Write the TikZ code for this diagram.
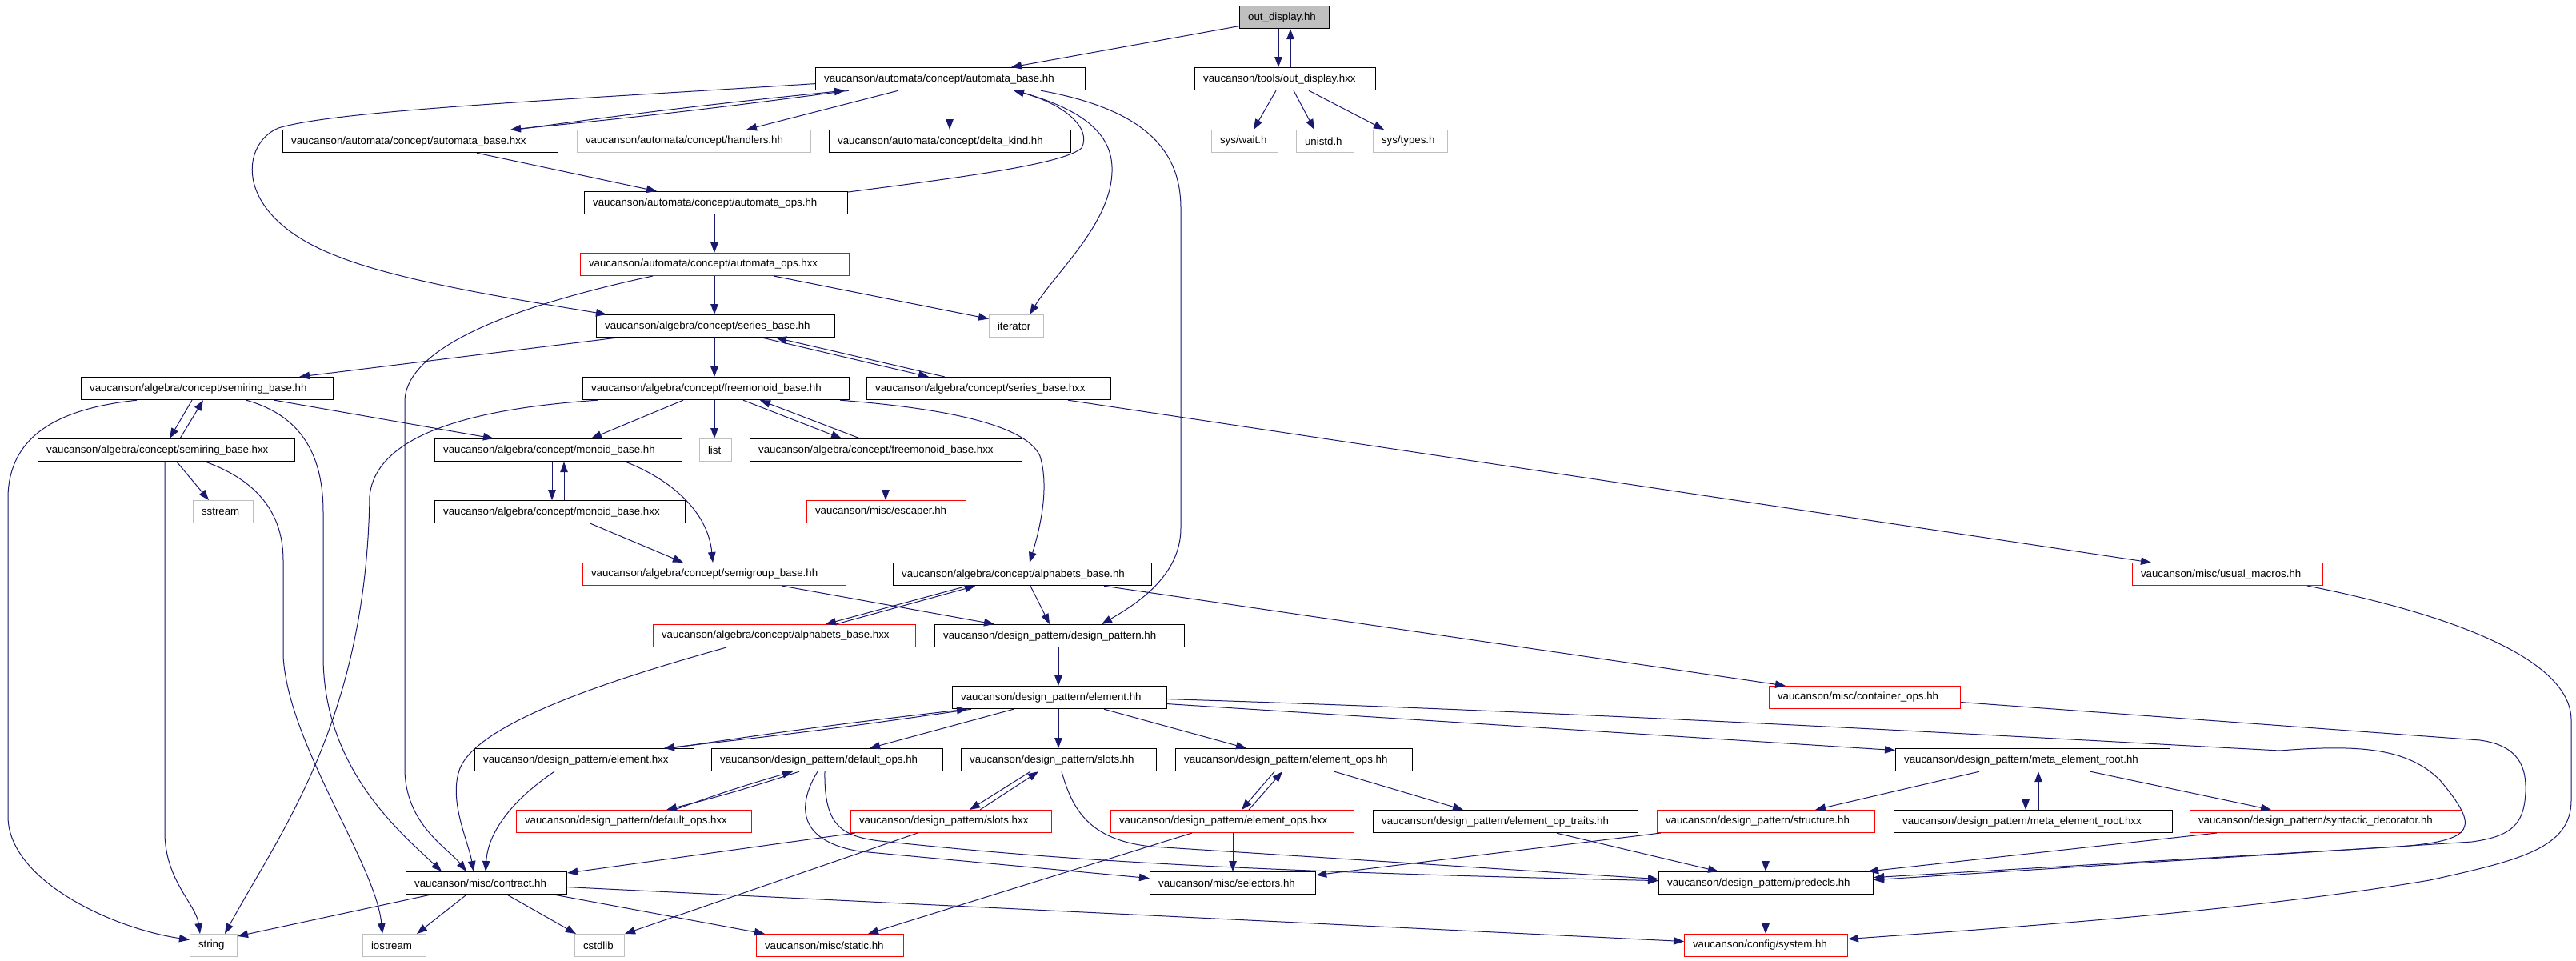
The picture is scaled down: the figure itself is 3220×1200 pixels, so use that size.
\documentclass[tikz,border=0pt]{standalone}
\usepackage{fontspec}
\usetikzlibrary{arrows.meta}
\newfontfamily\dotfont{Liberation Sans}
\definecolor{midblue}{RGB}{25,25,112}
\definecolor{gray75}{RGB}{191,191,191}
\tikzset{
  file/.style={draw=black, line width=1.2pt, anchor=north west, inner xsep=10.5pt, inner ysep=0pt,
    minimum height=28pt, align=left, font={\dotfont\fontsize{13.3pt}{16pt}\selectfont}},
  sysfile/.style={file, draw=gray75, line width=1pt},
  trunc/.style={file, draw=red, line width=1pt},
  root/.style={file, fill=gray75},
  tw/.style={text width=#1pt},
  dep/.style={draw=midblue, line width=1pt, -{Triangle[length=13pt,width=9.5pt]}},
}
\begin{document}
\begin{tikzpicture}[x=1pt, y=-1pt]
  \fill[white] (0,0) rectangle (3220,1200);
  \useasboundingbox (0,0) rectangle (3220,1200);
  % files, row by row
  \node[root, tw=91] (odh) at (1549,7) {out\_display.hh};
  \node[file, tw=316] (abh) at (1019,84) {vaucanson/automata/concept/automata\_base.hh};
  \node[file, tw=205] (odhxx) at (1493,84) {vaucanson/tools/out\_display.hxx};
  \node[file, tw=323] (abhxx) at (353,162) {vaucanson/automata/concept/automata\_base.hxx};
  \node[sysfile, tw=271] (handl) at (721,162) {vaucanson/automata/concept/handlers.hh};
  \node[file, tw=281] (delta) at (1036,162) {vaucanson/automata/concept/delta\_kind.hh};
  \node[sysfile, tw=62] (wait) at (1514,162) {sys/wait.h};
  \node[sysfile, tw=51] (unistd) at (1620,162) {unistd.h};
  \node[sysfile, tw=72] (types) at (1716,162) {sys/types.h};
  \node[file, tw=308] (aoh) at (730,239) {vaucanson/automata/concept/automata\_ops.hh};
  \node[trunc, tw=315] (aohxx) at (725,316) {vaucanson/automata/concept/automata\_ops.hxx};
  \node[file, tw=277] (sbh) at (745,393) {vaucanson/algebra/concept/series\_base.hh};
  \node[sysfile, tw=47] (iter) at (1236,393) {iterator};
  \node[file, tw=294] (srh) at (101,471) {vaucanson/algebra/concept/semiring\_base.hh};
  \node[file, tw=312] (fmh) at (728,471) {vaucanson/algebra/concept/freemonoid\_base.hh};
  \node[file, tw=284] (sbhxx) at (1083,471) {vaucanson/algebra/concept/series\_base.hxx};
  \node[file, tw=300] (srhxx) at (47,548) {vaucanson/algebra/concept/semiring\_base.hxx};
  \node[file, tw=288] (mbh) at (543,548) {vaucanson/algebra/concept/monoid\_base.hh};
  \node[sysfile, tw=19] (list) at (874,548) {list};
  \node[file, tw=319] (fmhxx) at (937,548) {vaucanson/algebra/concept/freemonoid\_base.hxx};
  \node[sysfile, tw=54] (sstream) at (241,625) {sstream};
  \node[file, tw=292] (mbhxx) at (543,625) {vaucanson/algebra/concept/monoid\_base.hxx};
  \node[trunc, tw=178] (esc) at (1008,625) {vaucanson/misc/escaper.hh};
  \node[trunc, tw=308] (sgh) at (728,703) {vaucanson/algebra/concept/semigroup\_base.hh};
  \node[file, tw=302] (alh) at (1116,703) {vaucanson/algebra/concept/alphabets\_base.hh};
  \node[trunc, tw=217] (umac) at (2665,703) {vaucanson/misc/usual\_macros.hh};
  \node[trunc, tw=307] (alhxx) at (816,780) {vaucanson/algebra/concept/alphabets\_base.hxx};
  \node[file, tw=291] (dph) at (1168,780) {vaucanson/design\_pattern/design\_pattern.hh};
  \node[file, tw=247] (elh) at (1190,857) {vaucanson/design\_pattern/element.hh};
  \node[trunc, tw=218] (cops) at (2211,857) {vaucanson/misc/container\_ops.hh};
  \node[file, tw=253] (elhxx) at (593,935) {vaucanson/design\_pattern/element.hxx};
  \node[file, tw=268] (doh) at (889,935) {vaucanson/design\_pattern/default\_ops.hh};
  \node[file, tw=223] (slh) at (1201,935) {vaucanson/design\_pattern/slots.hh};
  \node[file, tw=275] (eoh) at (1469,935) {vaucanson/design\_pattern/element\_ops.hh};
  \node[file, tw=322] (merh) at (2369,935) {vaucanson/design\_pattern/meta\_element\_root.hh};
  \node[trunc, tw=273] (dohxx) at (645,1012) {vaucanson/design\_pattern/default\_ops.hxx};
  \node[trunc, tw=230] (slhxx) at (1063,1012) {vaucanson/design\_pattern/slots.hxx};
  \node[trunc, tw=283] (eohxx) at (1388,1012) {vaucanson/design\_pattern/element\_ops.hxx};
  \node[file, tw=310] (eot) at (1716,1012) {vaucanson/design\_pattern/element\_op\_traits.hh};
  \node[trunc, tw=251] (strh) at (2071,1012) {vaucanson/design\_pattern/structure.hh};
  \node[file, tw=327] (merhxx) at (2367,1012) {vaucanson/design\_pattern/meta\_element\_root.hxx};
  \node[trunc, tw=319] (syn) at (2737,1012) {vaucanson/design\_pattern/syntactic\_decorator.hh};
  \node[file, tw=180] (con) at (507,1089) {vaucanson/misc/contract.hh};
  \node[file, tw=186] (sel) at (1437,1089) {vaucanson/misc/selectors.hh};
  \node[file, tw=247] (pred) at (2073,1089) {vaucanson/design\_pattern/predecls.hh};
  \node[sysfile, tw=38] (string) at (237,1167) {string};
  \node[sysfile, tw=58] (iostr) at (453,1167) {iostream};
  \node[sysfile, tw=41] (cstd) at (718,1167) {cstdlib};
  \node[trunc, tw=163] (stat) at (945,1167) {vaucanson/misc/static.hh};
  \node[trunc, tw=183] (sys) at (2105,1167) {vaucanson/config/system.hh};
  % include relations
  \draw[dep] ([yshift=-11pt]odh.west) -- ([xshift=245pt]abh.north west);
  \draw[dep] ([xshift=49pt]odh.south west) -- ([xshift=105pt]odhxx.north west);
  \draw[dep] ([xshift=120pt]odhxx.north west) -- ([xshift=64pt]odh.south west);
  \draw[dep] ([xshift=102pt]odhxx.south west) -- ([xshift=53pt]wait.north west);
  \draw[dep] ([xshift=124pt]odhxx.south west) -- ([xshift=23pt]unistd.north west);
  \draw[dep] ([xshift=143pt]odhxx.south west) -- ([xshift=14pt]types.north west);
  \draw[dep] ([xshift=42pt]abh.south west) to[bend left=1] ([xshift=285pt]abhxx.north west);
  \draw[dep] ([xshift=292pt]abhxx.north west) to[bend left=1] ([xshift=37pt]abh.south west);
  \draw[dep] ([xshift=104pt]abh.south west) -- ([xshift=212pt]handl.north west);
  \draw[dep] ([xshift=168pt]abh.south west) -- ([xshift=151pt]delta.north west);
  \draw[dep] ([yshift=-6pt]abh.west) .. controls (700,125) and (420,138) .. (348,160)
    .. controls (300,180) and (290,270) .. (421,320) .. controls (500,352) and (650,375) .. ([xshift=13pt]sbh.north west);
  \draw[dep] ([xshift=250pt]abh.south west) .. controls (1350,135) and (1392,165) .. (1390,215)
    .. controls (1388,280) and (1320,340) .. ([xshift=51pt]iter.north west);
  \draw[dep] ([yshift=-1pt]aoh.north east) .. controls (1200,222) and (1330,205) .. (1352,185)
    .. controls (1365,160) and (1330,130) .. ([xshift=248pt]abh.south west);
  \draw[dep] ([xshift=282pt]abh.south west) .. controls (1420,135) and (1476,180) .. (1476,260) -- (1476,660)
    .. controls (1476,720) and (1420,755) .. ([xshift=209pt]dph.north west);
  \draw[dep] ([xshift=243pt]abhxx.south west) -- ([xshift=91pt]aoh.north west);
  \draw[dep] ([xshift=163pt]aoh.south west) -- ([xshift=168pt]aohxx.north west);
  \draw[dep] ([xshift=168pt]aohxx.south west) -- ([xshift=148pt]sbh.north west);
  \draw[dep] ([xshift=242pt]aohxx.south west) -- ([yshift=9pt]iter.west);
  \draw[dep] ([xshift=91pt]aohxx.south west) .. controls (700,370) and (510,420) .. (506,500) -- (506,960)
    .. controls (506,1030) and (560,1060) .. ([xshift=76pt]con.north west);
  \draw[dep] ([xshift=26pt]sbh.south west) -- ([xshift=273pt]srh.north west);
  \draw[dep] ([xshift=148pt]sbh.south west) -- ([xshift=165pt]fmh.north west);
  \draw[dep] ([xshift=208pt]sbh.south west) -- ([xshift=78pt]sbhxx.north west);
  \draw[dep] ([xshift=98pt]sbhxx.north west) -- ([xshift=225pt]sbh.south west);
  \draw[dep] ([xshift=252pt]sbhxx.south west) -- ([xshift=24pt]umac.north west);
  \draw[dep] ([xshift=-12pt]fmh.south east) .. controls (1150,508) and (1280,525) .. (1300,570)
    .. controls (1312,610) and (1300,660) .. ([xshift=171pt]alh.north west);
  \draw[dep] ([xshift=139pt]srh.south west) -- ([xshift=165pt]srhxx.north west);
  \draw[dep] ([xshift=178pt]srhxx.north west) -- ([xshift=153pt]srh.south west);
  \draw[dep] ([xshift=242pt]srh.south west) -- ([xshift=74pt]mbh.north west);
  \draw[dep] ([xshift=70pt]srh.south west) .. controls (80,510) and (12,540) .. (10,620) -- (10,1020)
    .. controls (10,1100) and (140,1160) .. ([yshift=7pt]string.west);
  \draw[dep] ([xshift=207pt]srh.south west) .. controls (360,515) and (404,550) .. (404,640) -- (404,820)
    .. controls (404,960) and (500,1040) .. ([xshift=45pt]con.north west);
  \draw[dep] ([xshift=159pt]srhxx.south west) -- (206,1040) .. controls (206,1100) and (245,1130) .. ([xshift=13pt]string.north west);
  \draw[dep] ([xshift=174pt]srhxx.south west) -- ([xshift=20pt]sstream.north west);
  \draw[dep] ([xshift=210pt]srhxx.south west) .. controls (320,600) and (354,640) .. (354,700) -- (354,820)
    .. controls (360,930) and (470,1080) .. ([xshift=25pt]iostr.north west);
  \draw[dep] ([xshift=126pt]fmh.south west) -- ([xshift=196pt]mbh.north west);
  \draw[dep] ([xshift=165pt]fmh.south west) -- ([xshift=19pt]list.north west);
  \draw[dep] ([xshift=201pt]fmh.south west) -- ([xshift=115pt]fmhxx.north west);
  \draw[dep] ([xshift=138pt]fmhxx.north west) -- ([xshift=222pt]fmh.south west);
  \draw[dep] ([xshift=19pt]fmh.south west) .. controls (600,510) and (470,540) .. (462,620)
    .. controls (458,900) and (350,1040) .. ([xshift=44pt]string.north west);
  \draw[dep] ([xshift=170pt]fmhxx.south west) -- ([xshift=99pt]esc.north west);
  \draw[dep] ([xshift=147pt]mbh.south west) -- ([xshift=147pt]mbhxx.north west);
  \draw[dep] ([xshift=162pt]mbhxx.north west) -- ([xshift=162pt]mbh.south west);
  \draw[dep] ([xshift=239pt]mbh.south west) .. controls (840,600) and (885,640) .. ([xshift=163pt]sgh.north west);
  \draw[dep] ([xshift=195pt]mbhxx.south west) -- ([xshift=126pt]sgh.north west);
  \draw[dep] ([xshift=249pt]sgh.south west) -- ([xshift=75pt]dph.north west);
  \draw[dep] ([xshift=93pt]alh.south west) -- ([xshift=216pt]alhxx.north west);
  \draw[dep] ([xshift=229pt]alhxx.north west) -- ([xshift=103pt]alh.south west);
  \draw[dep] ([xshift=172pt]alh.south west) -- ([xshift=144pt]dph.north west);
  \draw[dep] ([xshift=264pt]alh.south west) -- ([xshift=21pt]cops.north west);
  \draw[dep] ([xshift=92pt]alhxx.south west) .. controls (780,845) and (600,900) .. (575,960)
    .. controls (560,1000) and (585,1050) .. ([xshift=85pt]con.north west);
  \draw[dep] ([xshift=155pt]dph.south west) -- ([xshift=133pt]elh.north west);
  \draw[dep] ([xshift=24pt]elh.south west) to[bend left=1] ([xshift=237pt]elhxx.north west);
  \draw[dep] ([xshift=246pt]elhxx.north west) to[bend left=1] ([xshift=19pt]elh.south west);
  \draw[dep] ([xshift=77pt]elh.south west) -- ([xshift=198pt]doh.north west);
  \draw[dep] ([xshift=133pt]elh.south west) -- ([xshift=122pt]slh.north west);
  \draw[dep] ([xshift=190pt]elh.south west) -- ([xshift=89pt]eoh.north west);
  \draw[dep] ([yshift=-8pt]elh.east) -- ([yshift=12pt]merh.west);
  \draw[dep] ([yshift=-2pt]elh.east) .. controls (2000,890) and (2600,925) .. (2850,938)
    .. controls (2950,930) and (3010,935) .. (3050,975) .. controls (3100,1035) and (3095,1050) .. (3000,1058)
    -- ([yshift=7pt]pred.east);
  \draw[dep] ([yshift=-6pt]cops.east) -- (3100,925) .. controls (3150,932) and (3158,960) .. (3157,990)
    .. controls (3155,1030) and (3140,1045) .. (3090,1052) -- ([yshift=4pt]pred.east);
  \draw[dep] ([xshift=219pt]umac.south west) .. controls (3050,765) and (3214,820) .. (3214,900) -- (3214,1000)
    .. controls (3214,1060) and (3150,1075) .. (3037,1100) .. controls (2800,1140) and (2500,1160) .. ([yshift=8pt]sys.east);
  \draw[dep] ([xshift=100pt]elhxx.south west) .. controls (640,1000) and (610,1040) .. ([xshift=100pt]con.north west);
  \draw[dep] ([xshift=110pt]doh.south west) to[bend left=2] ([xshift=188pt]dohxx.north west);
  \draw[dep] ([xshift=198pt]dohxx.north west) to[bend left=2] ([xshift=102pt]doh.south west);
  \draw[dep] ([xshift=133pt]doh.south west) .. controls (1000,1000) and (990,1050) .. (1075,1064) -- ([yshift=6pt]sel.west);
  \draw[dep] ([xshift=142pt]doh.south west) .. controls (1030,1030) and (1050,1045) .. (1100,1051)
    .. controls (1300,1072) and (1500,1088) .. ([yshift=3pt]pred.west);
  \draw[dep] ([xshift=87pt]slh.south west) -- ([xshift=149pt]slhxx.north west);
  \draw[dep] ([xshift=162pt]slhxx.north west) -- ([xshift=97pt]slh.south west);
  \draw[dep] ([xshift=126pt]slh.south west) .. controls (1340,1010) and (1360,1050) .. (1440,1058) -- ([yshift=5pt]pred.west);
  \draw[dep] ([xshift=6pt]slhxx.south west) -- ([yshift=-2pt]con.north east);
  \draw[dep] ([xshift=84pt]slhxx.south west) -- (cstd.north east);
  \draw[dep] ([xshift=124pt]eoh.south west) -- ([xshift=164pt]eohxx.north west);
  \draw[dep] ([xshift=173pt]eohxx.north west) -- ([xshift=134pt]eoh.south west);
  \draw[dep] ([xshift=199pt]eoh.south west) -- ([xshift=113pt]eot.north west);
  \draw[dep] ([xshift=153pt]eohxx.south west) -- ([xshift=104pt]sel.north west);
  \draw[dep] ([xshift=102pt]eohxx.south west) -- ([xshift=140pt]stat.north west);
  \draw[dep] ([xshift=230pt]eot.south west) -- ([xshift=75pt]pred.north west);
  \draw[dep] ([xshift=5pt]strh.south west) -- ([yshift=10pt]sel.east);
  \draw[dep] ([xshift=136pt]strh.south west) -- ([xshift=134pt]pred.north west);
  \draw[dep] ([xshift=105pt]merh.south west) -- ([xshift=198pt]strh.north west);
  \draw[dep] ([xshift=163pt]merh.south west) -- ([xshift=165pt]merhxx.north west);
  \draw[dep] ([xshift=181pt]merhxx.north west) -- ([xshift=179pt]merh.south west);
  \draw[dep] ([xshift=244pt]merh.south west) -- ([xshift=102pt]syn.north west);
  \draw[dep] ([xshift=34pt]syn.south west) -- ([xshift=-7pt]pred.north east);
  \draw[dep] ([xshift=134pt]pred.south west) -- ([xshift=102pt]sys.north west);
  \draw[dep] ([xshift=31pt]con.south west) -- ([yshift=-3pt]string.north east);
  \draw[dep] ([xshift=76pt]con.south west) -- ([xshift=68pt]iostr.north west);
  \draw[dep] ([xshift=127pt]con.south west) -- ([xshift=2pt]cstd.north west);
  \draw[dep] ([xshift=186pt]con.south west) -- ([xshift=11pt]stat.north west);
  \draw[dep] ([yshift=-5pt]con.east) -- ([yshift=5pt]sys.west);
\end{tikzpicture}
\end{document}
